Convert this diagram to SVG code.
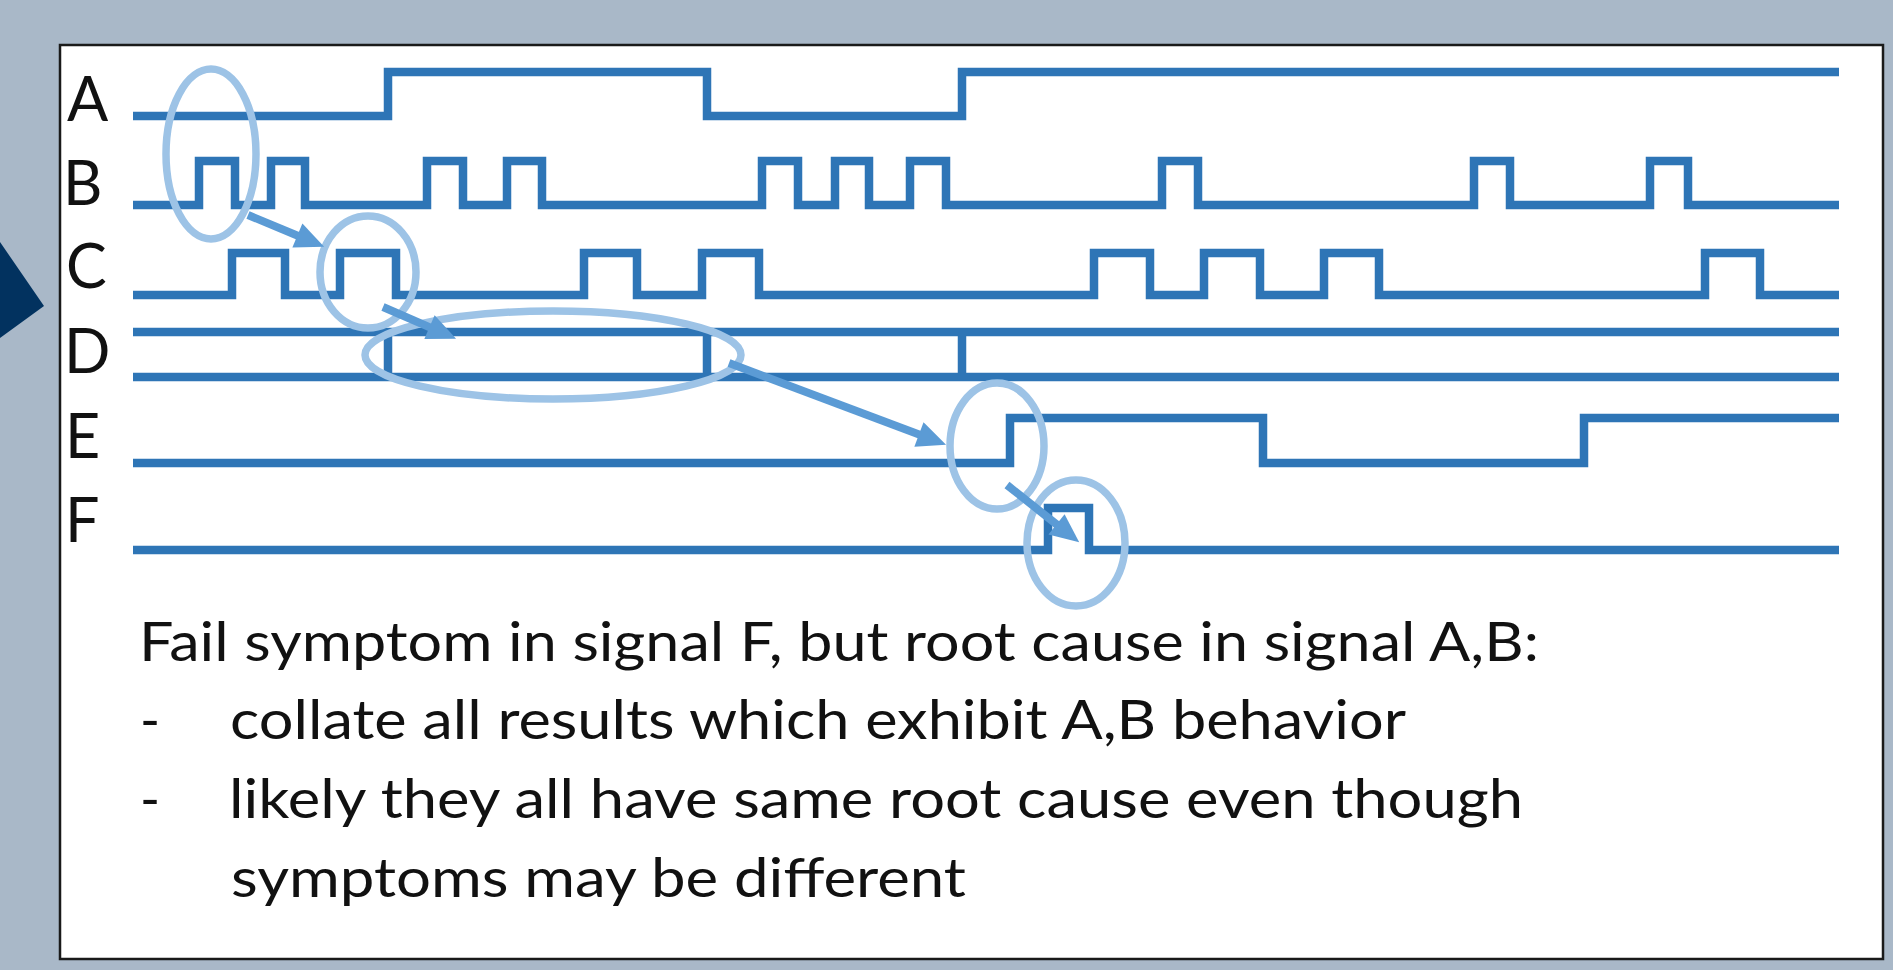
<svg xmlns="http://www.w3.org/2000/svg" width="1893" height="970" viewBox="0 0 1893 970">
  <style>
    .sig { fill: none; stroke: #2E75B6; stroke-width: 8.5; stroke-linejoin: miter; stroke-linecap: butt; }
    .ring { fill: none; stroke: #9DC3E6; stroke-width: 7.5; }
    .flow { fill: none; stroke: #5B9BD5; stroke-width: 8; marker-end: url(#head); }
    .lbl { font-family: Lato, "Liberation Sans", sans-serif; font-size: 61px; fill: #111; }
    .body { font-family: Lato, "Liberation Sans", sans-serif; font-size: 54px; fill: #111; }
  </style>
  <defs>
    <marker id="head" markerUnits="userSpaceOnUse" viewBox="0 0 30 26" markerWidth="30" markerHeight="26" refX="18" refY="13" orient="auto" overflow="visible">
      <path d="M0,0 L29,13 L0,26 Z" fill="#5B9BD5"/>
    </marker>
  </defs>

  <!-- backdrop -->
  <rect x="0" y="0" width="1893" height="970" fill="#A9B8C8"/>
  <polygon points="0,242 44,306 0,338" fill="#02325F"/>
  <rect x="60" y="45" width="1823" height="914" fill="#FFFFFF" stroke="#1A1A1A" stroke-width="2.5"/>

  <!-- signal names -->
  <g id="labels">
    <text class="lbl" x="67" y="121">A</text>
    <text class="lbl" x="63" y="205">B</text>
    <text class="lbl" x="66" y="288">C</text>
    <text class="lbl" x="64" y="373">D</text>
    <text class="lbl" x="65" y="458">E</text>
    <text class="lbl" x="65" y="542">F</text>
  </g>

  <!-- waveforms -->
  <g id="signal-A">
    <path class="sig" d="M133,116 H388 V72 H707 V116 H962 V72 H1839"/>
  </g>
  <g id="signal-B">
    <path class="sig" d="M133,205 H199 V161 H235 V205 H271 V161 H305 V205 H427 V161 H463 V205 H507 V161 H542 V205 H762 V161 H798 V205 H835 V161 H869 V205 H910 V161 H946 V205 H1162 V161 H1198 V205 H1474 V161 H1510 V205 H1650 V161 H1688 V205 H1839"/>
  </g>
  <g id="signal-C">
    <path class="sig" d="M133,295 H232 V253 H285 V295 H340 V253 H396 V295 H584 V253 H637 V295 H702 V253 H759 V295 H1094 V253 H1150 V295 H1204 V253 H1260 V295 H1324 V253 H1379 V295 H1705 V253 H1760 V295 H1839"/>
  </g>
  <g id="signal-D">
    <path class="sig" d="M133,332 H1839 M133,377 H1839 M388,332 V377 M707,332 V377 M962,332 V377"/>
  </g>
  <g id="signal-E">
    <path class="sig" d="M133,463 H1010 V418 H1263 V463 H1584 V418 H1839"/>
  </g>
  <g id="signal-F">
    <path class="sig" d="M133,550 H1048 V508 H1089 V550 H1839"/>
  </g>

  <!-- highlighted events -->
  <g id="mark-AB"><ellipse class="ring" cx="211" cy="154" rx="45" ry="85"/></g>
  <g id="mark-C"><ellipse class="ring" cx="368" cy="272" rx="48" ry="56"/></g>
  <g id="mark-D"><ellipse class="ring" cx="553" cy="355" rx="188" ry="44"/></g>
  <g id="mark-E"><ellipse class="ring" cx="997" cy="446" rx="47" ry="63"/></g>
  <g id="mark-F"><ellipse class="ring" cx="1076" cy="543" rx="49" ry="63"/></g>

  <!-- propagation arrows -->
  <g id="connectors">
    <path class="flow" d="M248,215 L314,242.5"/>
    <path class="flow" d="M383,307 L446,334.3"/>
    <path class="flow" d="M729,363 L935.8,440.8"/>
    <path class="flow" d="M1007,485 L1070.6,535.5"/>
  </g>

  <!-- notes -->
  <g id="notes">
    <text class="body" x="139" y="661" textLength="1400" lengthAdjust="spacingAndGlyphs">Fail symptom in signal F, but root cause in signal A,B:</text>
    <text class="body" x="140" y="739">-</text>
    <text class="body" x="230" y="739" textLength="1176" lengthAdjust="spacingAndGlyphs">collate all results which exhibit A,B behavior</text>
    <text class="body" x="140" y="818">-</text>
    <text class="body" x="229" y="818" textLength="1294" lengthAdjust="spacingAndGlyphs">likely they all have same root cause even though</text>
    <text class="body" x="231" y="897" textLength="735" lengthAdjust="spacingAndGlyphs">symptoms may be different</text>
  </g>
</svg>
